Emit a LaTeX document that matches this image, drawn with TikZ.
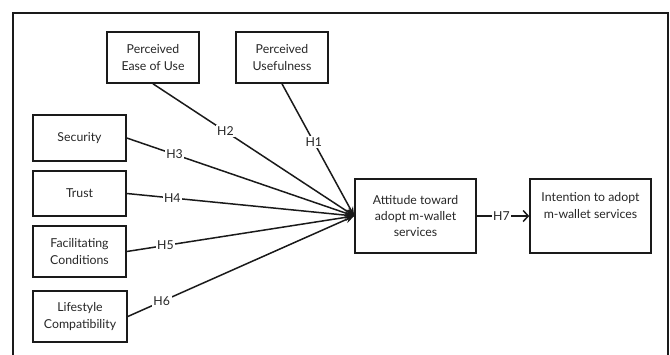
\documentclass[tikz,border=0pt]{standalone}
\usepackage{fontspec}
\setmainfont{Lato}
\usetikzlibrary{arrows.meta}
\definecolor{ink}{HTML}{1A1A1A}
\definecolor{txt}{HTML}{262626}
\begin{document}
\begin{tikzpicture}[x=1pt,y=-1pt,
  box/.style={draw=ink,line width=1.6pt,align=center,inner sep=0pt,font=\fontsize{12.3}{16.2}\selectfont,text=txt},
  link/.style={draw=ink,line width=1.5pt,-{Stealth[length=9pt,width=7pt]}},
  hlab/.style={fill=white,inner sep=1.5pt,font=\fontsize{12.3}{14}\selectfont,text=txt},
]
\useasboundingbox (0,0) rectangle (670,354);
\draw[ink,line width=1.7pt] (13,360) -- (13,13) -- (668,13) -- (668,360);
\node[box,minimum width=92pt,minimum height=51pt] (ease) at (153,57.5) {Perceived\\Ease of Use};
\node[box,minimum width=92pt,minimum height=51pt] (useful) at (282,57.5) {Perceived\\Usefulness};
\node[box,minimum width=93pt,minimum height=46pt] (sec) at (79.5,138) {Security};
\node[box,minimum width=93pt,minimum height=45pt] (trust) at (79.5,193.5) {Trust};
\node[box,minimum width=93pt,minimum height=51pt] (fac) at (79.5,251.5) {Facilitating\\Conditions};
\node[box,minimum width=94pt,minimum height=51pt] (life) at (80,316.5) {Lifestyle\\Compatibility};
\node[box,minimum width=121pt,minimum height=74pt] (att) at (415.5,216) {Attitude toward\\adopt m-wallet\\services};
\node[box,minimum width=121pt,minimum height=74pt] (int) at (590.5,216) {Intention to adopt\\m-wallet services\\\strut};
\draw[link] (ease.south) -- node[hlab,pos=0.36] {H2} (att.west);
\draw[link] (useful.south) -- node[hlab,pos=0.44] {H1} (att.west);
\draw[link] (sec.east) -- node[hlab,pos=0.21] {H3} (att.west);
\draw[link] (trust.east) -- node[hlab,pos=0.2] {H4} (att.west);
\draw[link] (fac.east) -- node[hlab,pos=0.17] {H5} (att.west);
\draw[link] (life.east) -- node[hlab,pos=0.15] {H6} (att.west);
\draw[draw=ink,line width=1.5pt,-{Straight Barb[length=5pt,width=11pt]}] (att.east) -- node[hlab,pos=0.47] {H7} (int.west);
\end{tikzpicture}
\end{document}
